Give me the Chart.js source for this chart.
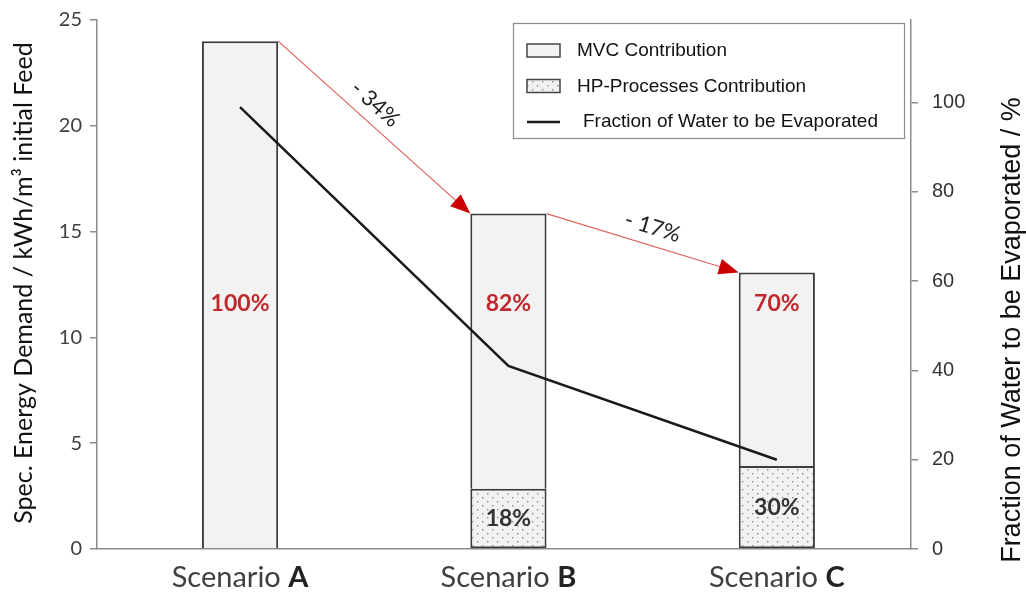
<!DOCTYPE html>
<html>
<head>
<meta charset="utf-8">
<script src="https://cdn.jsdelivr.net/npm/chart.js@4.4.1/dist/chart.umd.min.js"></script>
<style>
  body { margin: 0; background: #fff; }
  #wrap { width: 1026px; height: 598px; position: relative; }
</style>
</head>
<body>
<div id="wrap"><canvas id="chart"></canvas></div>
<script>
// values
const scenarios = ['A', 'B', 'C'];
const mvcDemand = [24.0, 13.0, 9.15];     // kWh/m³ from MVC
const hpDemand = [null, 2.85, 3.92];      // kWh/m³ from HP-processes
const waterFraction = [99, 41, 20];        // % of water to be evaporated
const mvcShare = ['100%', '82%', '70%'];
const hpShare = [null, '18%', '30%'];
const reductions = ['- 34%', '- 17%'];
const leftTicks = [0, 5, 10, 15, 20, 25];
const rightTicks = [0, 20, 40, 60, 80, 100];
const mvcLabelLevel = 11.6;                // left-axis value where the red shares sit

const BAR_FILL = '#f2f2f2';
const BAR_EDGE = '#3c3c3c';
const LEFT_TITLE = 'Spec. Energy Demand / kWh/m³ initial Feed';
const RIGHT_TITLE = 'Fraction of Water to be Evaporated / %';

function dotPattern() {
    const c = document.createElement('canvas');
    c.width = 10; c.height = 8;
    const g = c.getContext('2d');
    g.fillStyle = BAR_FILL;
    g.fillRect(0, 0, 10, 8);
    g.fillStyle = '#8a8a8a';
    g.fillRect(2, 1, 1.4, 1.4);
    g.fillRect(7, 5, 1.4, 1.4);
    return g.createPattern(c, 'repeat');
}
const dots = dotPattern();

const xy = arr => arr.map((v, i) => ({ x: i, y: v }));

// labels, arrows, legend, titles and category names
const overlay = {
    id: 'overlay',
    afterDatasetsDraw(chart) {
        const ctx = chart.ctx;
        const ys = chart.scales.y;
        const hpBars = chart.getDatasetMeta(0).data;
        const mvcBars = chart.getDatasetMeta(1).data;
        ctx.save();

        // share labels
        ctx.textAlign = 'center';
        ctx.textBaseline = 'middle';
        ctx.font = 'bold 23px Lato';
        ctx.fillStyle = '#c0282d';
        mvcBars.forEach((b, i) => ctx.fillText(mvcShare[i], b.x, ys.getPixelForValue(mvcLabelLevel)));
        ctx.fillStyle = '#333';
        hpBars.forEach((b, i) => {
            if (!hpShare[i]) return;
            ctx.fillText(hpShare[i], b.x, ys.getPixelForValue(hpDemand[i] / 2));
        });

        // reduction arrows between bar tops
        const shift = [-15, 5];
        reductions.forEach((txt, i) => {
            const a = mvcBars[i], b = mvcBars[i + 1];
            const x0 = a.x + a.width / 2, y0 = a.y;
            const x1 = b.x - b.width / 2, y1 = b.y;
            const ang = Math.atan2(y1 - y0, x1 - x0);
            const len = Math.hypot(x1 - x0, y1 - y0);
            ctx.save();
            ctx.translate(x0, y0);
            ctx.rotate(ang);
            ctx.strokeStyle = '#e0605c';
            ctx.lineWidth = 1.2;
            ctx.beginPath();
            ctx.moveTo(0, 0);
            ctx.lineTo(len - 16, 0);
            ctx.stroke();
            ctx.fillStyle = '#cc0000';
            ctx.beginPath();
            ctx.moveTo(len, 0);
            ctx.lineTo(len - 20, -8);
            ctx.lineTo(len - 20, 8);
            ctx.closePath();
            ctx.fill();
            ctx.fillStyle = '#222';
            ctx.font = '22px Lato';
            ctx.fillText(txt, len / 2 + shift[i], -18);
            ctx.restore();
        });
        ctx.restore();
    },
    afterDraw(chart) {
        const ctx = chart.ctx;
        const xs = chart.scales.x;
        ctx.save();

        // axis titles
        ctx.textAlign = 'center';
        ctx.textBaseline = 'middle';
        ctx.fillStyle = '#111';
        ctx.save();
        ctx.translate(24, 283);
        ctx.rotate(-Math.PI / 2);
        ctx.font = '25px Lato';
        ctx.fillText(LEFT_TITLE, 0, 0);
        ctx.restore();
        ctx.save();
        ctx.translate(1013, 330);
        ctx.rotate(-Math.PI / 2);
        ctx.font = '27px "Liberation Sans", Arial';
        ctx.fillText(RIGHT_TITLE, 0, 0);
        ctx.restore();

        // category names with bold letter
        ctx.textAlign = 'left';
        scenarios.forEach((s, i) => {
            const cx = xs.getPixelForValue(i);
            ctx.font = '29px Lato';
            const w1 = ctx.measureText('Scenario ').width;
            ctx.font = 'bold 29px Lato';
            const w2 = ctx.measureText(s).width;
            const x = cx - (w1 + w2) / 2;
            ctx.fillStyle = '#404040';
            ctx.font = '29px Lato';
            ctx.fillText('Scenario ', x, 578);
            ctx.fillStyle = '#222';
            ctx.font = 'bold 29px Lato';
            ctx.fillText(s, x + w1, 578);
        });

        // legend box
        const lx = 513, ly = 23, lw = 391, lh = 115;
        ctx.fillStyle = '#fff';
        ctx.fillRect(lx, ly, lw, lh);
        ctx.strokeStyle = '#8c8c8c';
        ctx.lineWidth = 1.2;
        ctx.strokeRect(lx + 0.5, ly + 0.5, lw, lh);

        const rows = [
            { text: 'MVC Contribution', fill: BAR_FILL, tx: 577 },
            { text: 'HP-Processes Contribution', fill: dots, tx: 577 },
            { text: 'Fraction of Water to be Evaporated', line: true, tx: 583 }
        ];
        ctx.font = '19px "Liberation Sans", Arial';
        rows.forEach((r, i) => {
            const cy = 50 + i * 35.5;
            if (r.line) {
                ctx.strokeStyle = '#1a1a1a';
                ctx.lineWidth = 2.5;
                ctx.beginPath();
                ctx.moveTo(527, cy + 1);
                ctx.lineTo(560, cy + 1);
                ctx.stroke();
            } else {
                ctx.fillStyle = r.fill;
                ctx.fillRect(527, cy - 6, 33, 13);
                ctx.strokeStyle = '#444';
                ctx.lineWidth = 1.5;
                ctx.strokeRect(527, cy - 6, 33, 13);
            }
            ctx.fillStyle = '#111';
            ctx.fillText(r.text, r.tx, cy + 1);
        });
        ctx.restore();
    }
};

new Chart(document.getElementById('chart'), {
    type: 'bar',
    data: {
        datasets: [
            {
                label: 'HP-Processes Contribution',
                data: xy(hpDemand),
                backgroundColor: dots,
                borderColor: BAR_EDGE,
                borderWidth: 2,
                borderSkipped: false,
                stack: 'demand',
                yAxisID: 'y',
                order: 1
            },
            {
                label: 'MVC Contribution',
                data: xy(mvcDemand),
                backgroundColor: BAR_FILL,
                borderColor: BAR_EDGE,
                borderWidth: 2,
                borderSkipped: 'start',
                stack: 'demand',
                yAxisID: 'y',
                order: 1
            },
            {
                type: 'line',
                label: 'Fraction of Water to be Evaporated',
                data: xy(waterFraction),
                borderColor: '#1a1a1a',
                borderWidth: 2.5,
                pointRadius: 0,
                tension: 0,
                yAxisID: 'y1',
                order: 0
            }
        ]
    },
    options: {
        responsive: true,
        maintainAspectRatio: false,
        animation: false,
        layout: { padding: { top: 15, left: 0, right: 0, bottom: 0 } },
        datasets: { bar: { categoryPercentage: 1, barPercentage: 0.284 } },
        plugins: { legend: { display: false }, tooltip: { enabled: false } },
        scales: {
            x: {
                type: 'linear',
                stacked: true,
                offset: false,
                min: -0.533,
                max: 2.5,
                afterBuildTicks: s => { s.ticks = scenarios.map((_, i) => ({ value: i })); },
                grid: { display: false },
                border: { display: true, color: '#8c8c8c', width: 1.5 },
                ticks: { display: false },
                afterFit: s => { s.height = 49; }
            },
            y: {
                stacked: true,
                position: 'left',
                min: 0,
                max: 25,
                afterBuildTicks: s => { s.ticks = leftTicks.map(v => ({ value: v })); },
                grid: { display: true, drawOnChartArea: false, drawTicks: true, tickLength: 7, color: '#8c8c8c', lineWidth: 1.5 },
                border: { display: true, color: '#8c8c8c', width: 1.5 },
                ticks: { color: '#404040', font: { family: 'Lato', size: 20, lineHeight: 0.6 }, padding: 8 },
                afterFit: s => { s.width = 97; }
            },
            y1: {
                position: 'right',
                min: 0,
                max: 118.5,
                afterBuildTicks: s => { s.ticks = rightTicks.map(v => ({ value: v })); },
                grid: { display: true, drawOnChartArea: false, drawTicks: true, tickLength: 7, color: '#8c8c8c', lineWidth: 1.5 },
                border: { display: true, color: '#8c8c8c', width: 1.5 },
                ticks: { color: '#333', font: { family: '"Liberation Sans", Arial', size: 20, lineHeight: 0.6 }, padding: 14 },
                afterFit: s => { s.width = 115; }
            }
        }
    },
    plugins: [overlay]
});
</script>
</body>
</html>
